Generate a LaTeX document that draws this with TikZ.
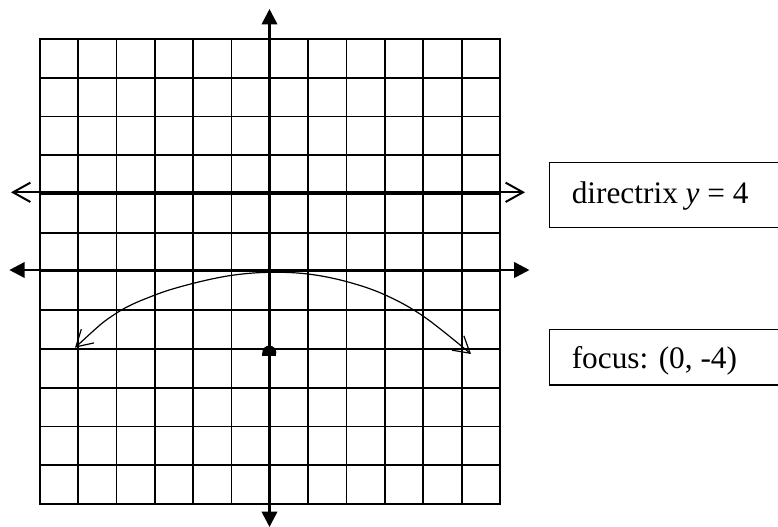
\documentclass[tikz,border=0pt]{standalone}
\usepackage{fontspec}
\setmainfont{Liberation Serif}
\usetikzlibrary{arrows.meta}
\begin{document}
\begin{tikzpicture}[x=0.75pt,y=-0.75pt,
  gridline/.style={line width=1.3pt, black, line cap=rect},
  axisline/.style={line width=1.9pt, {Triangle[length=11.5pt,width=11.5pt]}-{Triangle[length=11.5pt,width=11.5pt]}},
  dirline/.style={line width=1.5pt, {Straight Barb[length=13pt,width=14.5pt]}-{Straight Barb[length=13pt,width=14.5pt]}},
  curveline/.style={line width=0.9pt, {Straight Barb[length=12pt,width=14pt]}-{Straight Barb[length=12pt,width=14pt]}},
  labelbox/.style={line width=0.9pt},
  labeltext/.style={font=\fontsize{23.5}{28}\selectfont, inner sep=0pt, anchor=base west}]
\clip (0,0) rectangle (778,526);
% grid
\foreach \i in {0,...,12} {
  \draw[gridline] ({39.7+\i*38.358},39) -- ({39.7+\i*38.358},504);
  \draw[gridline] (39.7,{39+\i*38.75}) -- (500,{39+\i*38.75});
}
% named end points
\coordinate (yt) at (269.5,9);
\coordinate (yb) at (269.5,527);
\coordinate (xl) at (9.3,270);
\coordinate (xr) at (529.5,270);
\coordinate (dl) at (11,192.3);
\coordinate (dr) at (525,192.3);
\coordinate (F) at (269.3,352.6);
% axes
\draw[axisline] (yb) -- (yt);
\draw[axisline] (xl) -- (xr);
% directrix
\draw[dirline] (dl) -- (dr);
% parabola
\draw[curveline] plot[smooth, tension=0.6] coordinates {(75,347.7) (116,313.4) (155,295) (193,283.4) (232,275.3) (269.5,272.3) (308,274) (347,281.7) (385.3,295) (424,316.7) (471,354)};
% focus dot
\begin{scope}
  \clip (255,340) rectangle (285,355.3);
  \fill (F) circle (5.25pt);
  \fill (F) ++(-5.25pt,0pt) rectangle ++(10.5pt,-2.5pt);
\end{scope}
% label boxes
\draw[labelbox] (790,162.7) -- (549.3,162.7) -- (549.3,227.7) -- (790,227.7);
\draw[labelbox] (790,329.3) -- (549.3,329.3) -- (549.3,385) -- (790,385);
\node[labeltext] (dirtext) at (571.5,203.3) {directrix \textit{y} = 4};
\node[labeltext] (foctext) at (571.5,368.3) {focus: (0, -4)};
\end{tikzpicture}
\end{document}
